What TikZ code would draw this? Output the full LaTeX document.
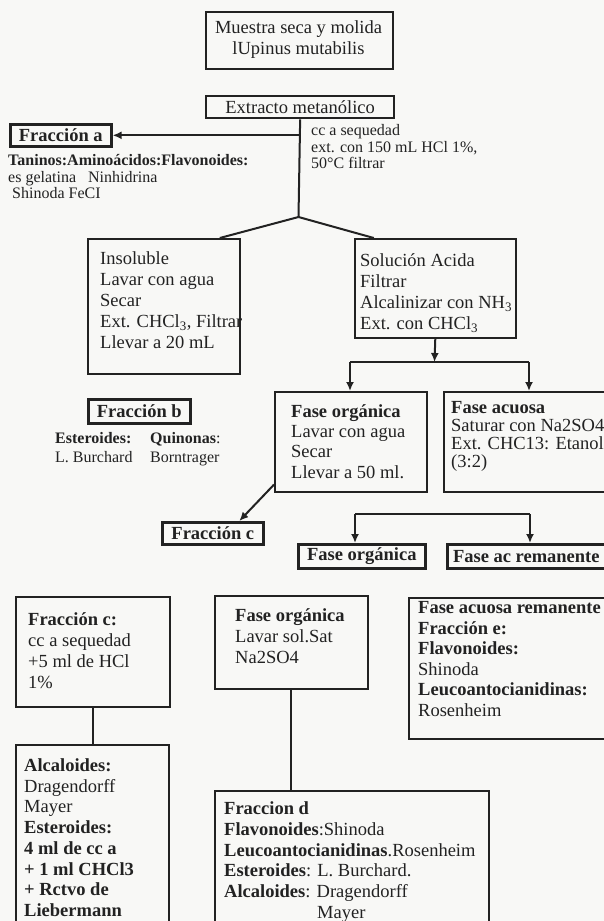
\documentclass[tikz,border=0pt]{standalone}
\usepackage{fontspec}
\setmainfont{Liberation Serif}
\usetikzlibrary{arrows.meta}
\definecolor{ink}{HTML}{222222}
\definecolor{paper}{HTML}{F8F8F6}
\newcommand{\mylines}[1]{\begin{tabular}[t]{@{}l@{}}#1\end{tabular}}
\newcommand{\mycenter}[1]{\begin{tabular}[t]{@{}c@{}}#1\end{tabular}}
\newcommand{\fsmain}{\fontsize{18.5}{20.7}\selectfont}
\newcommand{\fssmall}{\fontsize{16}{16.5}\selectfont}
\tikzset{
  box/.style={draw=ink, line width=1.6pt, fill=paper, anchor=north west, inner sep=0pt, font=\fsmain, text=ink},
  lbox/.style={draw=ink, line width=2.6pt, fill=paper, anchor=north west, inner sep=0pt, font=\fsmain\bfseries, text=ink},
  txt/.style={anchor=base west, inner sep=0pt, text=ink, font=\fsmain},
  stxt/.style={anchor=base west, inner sep=0pt, text=ink, font=\fssmall},
  conn/.style={draw=ink, line width=2pt},
  arr/.style={conn, -{Latex[length=9pt,width=8pt]}}
}
\begin{document}
\begin{tikzpicture}[x=1pt,y=-1pt]
\clip (0,0) rectangle (604,921);
\fill[paper] (0,0) rectangle (604,921);
\useasboundingbox (0,0) rectangle (604,921);

% top
\node[box, line width=1.9pt, minimum width=187pt, minimum height=57pt] (mu) at (205,11) {};
\node[txt, anchor=base] (mut) at (298.5,33.5) {\mycenter{Muestra seca y molida\\ lUpinus mutabilis}};

\node[lbox, font=\fsmain, line width=2.3pt, minimum width=188pt, minimum height=22pt] (ext) at (205,95) {Extracto metanólico};

\node[lbox, minimum width=101pt, minimum height=22pt] (fa) at (9,123) {Fracción a};
\node[stxt] (fat) at (8,165.5) {\mylines{\textbf{Taninos:Aminoácidos:Flavonoides:}\\ es gelatina\ \ \ Ninhidrina\\ \ Shinoda FeCI}};
\node[stxt] (cct) at (311,135.5) {\mylines{cc a sequedad\\ ext. con 150 mL HCl 1\%,\\ 50°C filtrar}};

\coordinate (sp) at (298.5,217);
\draw[conn] (ext.south) -- (sp);
\draw[arr] (ext.south |- fa.east) -- (fa.east);

% second row
\node[box, minimum width=152pt, minimum height=135pt] (ins) at (87,238) {};
\node[txt] (inst) at (100,264.5) {\fontsize{18.5}{21}\selectfont\mylines{Insoluble\\ Lavar con agua\\ Secar\\ Ext. CHCl\textsubscript{3}, Filtrar\\ Llevar a 20 mL}};

\node[box, minimum width=161pt, minimum height=99pt] (sol) at (354,238) {};
\node[txt] (solt) at (360,266.5) {\fontsize{18.5}{21}\selectfont\mylines{Solución Acida\\ Filtrar\\ Alcalinizar con NH\textsubscript{3}\\ Ext. con CHCl\textsubscript{3}}};

\draw[conn] (sp) -- ([xshift=56pt]ins.north);
\draw[conn] (sp) -- ([xshift=-61.5pt]sol.north);

% split 1
\coordinate (b1) at (434.5,362);
\coordinate (b1l) at (350,362);
\coordinate (b1r) at (529,362);
\draw[arr] (sol.south) -- (b1);
\draw[conn] (b1l) -- (b1r);

\node[box, minimum width=152pt, minimum height=100pt] (fo) at (274,391) {};
\node[txt] (fot) at (291,417.5) {\fontsize{18.5}{20.2}\selectfont\mylines{\textbf{Fase orgánica}\\ Lavar con agua\\ Secar\\ Llevar a 50 ml.}};

\node[box, minimum width=180pt, minimum height=100pt] (fq) at (443,391) {};
\node[txt] (fqt) at (451,413.5) {\fontsize{18.5}{17.8}\selectfont\mylines{\textbf{Fase acuosa}\\ Saturar con Na2SO4\\ Ext. CHC13: Etanol\\ (3:2)}};

\draw[arr] (b1l) -- (b1l |- fo.north);
\draw[arr] (b1r) -- (b1r |- fq.north);

% fraccion b
\node[lbox, minimum width=102pt, minimum height=24pt] (fb) at (87,398) {Fracción b};
\node[stxt] (fbt1) at (55,443.5) {\fontsize{16}{19}\selectfont\mylines{\textbf{Esteroides:}\\ L. Burchard}};
\node[stxt] (fbt2) at (150,443.5) {\fontsize{16}{19}\selectfont\mylines{\textbf{Quinonas}:\\ Borntrager}};

% fraccion c
\node[lbox, minimum width=101pt, minimum height=22pt] (fc) at (161,521) {Fracción c};
\draw[arr] ([yshift=8pt]fo.south west) -- ([xshift=26.5pt]fc.north);

% split 2
\coordinate (b2l) at (355,514);
\coordinate (b2r) at (530,514);
\node[lbox, minimum width=127pt, minimum height=24pt] (fo3) at (297,543) {Fase orgánica};
\node[lbox, minimum width=170pt, minimum height=24pt] (far) at (446,543) {\hspace*{-12pt}Fase ac remanente};
\draw[conn] (b2l) -- (b2r);
\draw[arr] (b2l) -- (b2l |- fo3.north);
\draw[arr] (b2r) -- (b2r |- far.north);

% bottom left column
\node[box, minimum width=154pt, minimum height=110pt] (fc2) at (15,596) {};
\node[txt] (fc2t) at (28,625.5) {\fontsize{18.5}{21}\selectfont\mylines{\textbf{Fracción c:}\\ cc a sequedad\\ +5 ml de HCl\\ 1\%}};

\node[box, minimum width=153pt, minimum height=200pt] (alc) at (15,744) {};
\node[txt] (alct) at (24,771.5) {\fontsize{18.5}{20.7}\selectfont\mylines{\textbf{Alcaloides:}\\ Dragendorff\\ Mayer\\ \textbf{Esteroides:}\\ \textbf{4 ml de cc a}\\ \textbf{+ 1 ml CHCl3}\\ \textbf{+ Rctvo de}\\ \textbf{Liebermann}}};
\draw[conn] (fc2.south) -- (fc2.south |- alc.north);

% bottom middle column
\node[box, minimum width=153pt, minimum height=93pt] (fo2) at (214,595) {};
\node[txt] (fo2t) at (235,621.5) {\fontsize{18.5}{21}\selectfont\mylines{\textbf{Fase orgánica}\\ Lavar sol.Sat\\ Na2SO4}};

\node[box, minimum width=274pt, minimum height=160pt] (fd) at (214,790) {};
\node[txt] (fdt) at (224,814.5) {\fontsize{18.5}{20.8}\selectfont\mylines{\textbf{Fraccion d}\\ \textbf{Flavonoides}:Shinoda\\ \textbf{Leucoantocianidinas}.Rosenheim\\ \textbf{Esteroides}: L. Burchard.\\ \textbf{Alcaloides}: Dragendorff\\ \hspace*{93pt}Mayer}};
\draw[conn] (fo2.south) -- (fo2.south |- fd.north);

% bottom right
\node[box, minimum width=220pt, minimum height=141pt] (fr) at (408,597) {};
\node[txt] (frt) at (418,613.5) {\fontsize{18.5}{20.6}\selectfont\mylines{\textbf{Fase acuosa remanente}\\ \textbf{Fracción e:}\\ \textbf{Flavonoides:}\\ Shinoda\\ \textbf{Leucoantocianidinas:}\\ Rosenheim}};
\end{tikzpicture}
\end{document}
